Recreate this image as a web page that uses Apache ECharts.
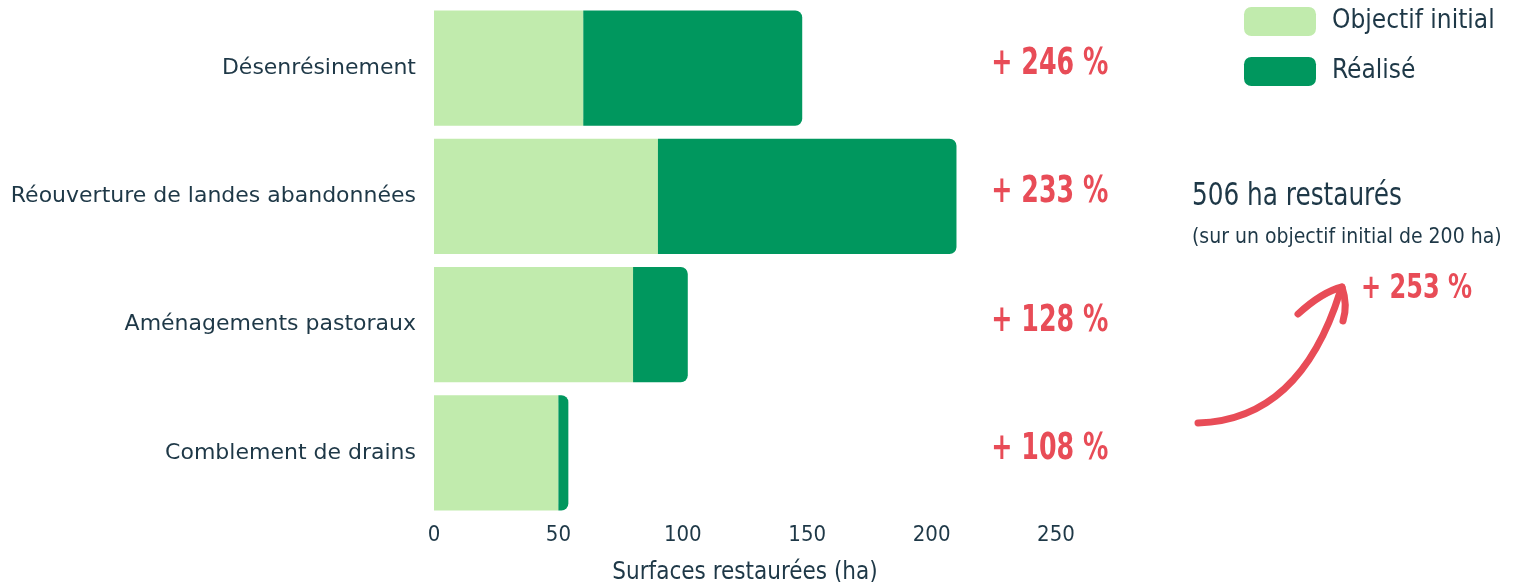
<!DOCTYPE html>
<html><head><meta charset="utf-8">
<script src="https://cdn.jsdelivr.net/npm/echarts@6/dist/echarts.min.js"></script>
<style>html,body{margin:0;padding:0;background:#fff}#c{width:1523px;height:582px}</style>
</head><body><div id="c"></div>
<script>
const categories = ['Désenrésinement', 'Réouverture de landes abandonnées', 'Aménagements pastoraux', 'Comblement de drains'];
const objectif = [60, 90, 80, 50];
const realise = [148, 210, 102, 54];
const pctLabels = ['+ 246 %', '+ 233 %', '+ 128 %', '+ 108 %'];
const xTicks = [0, 50, 100, 150, 200, 250];

const COND = "'DejaVu Sans Condensed','Liberation Sans Narrow','Roboto',sans-serif";
const TXT = '#1e3847';
const RED = '#e84c57';
const LABEL_X = 224;

const extra = realise.map((v, i) => v - objectif[i]);
const arrowStyle = { fill: null, stroke: RED, lineWidth: 7, lineCap: 'round' };

const chart = echarts.init(document.getElementById('c'));
chart.setOption({
  animation: false,
  grid: { left: 434, right: 467, top: 4, bottom: 65, containLabel: false, outerBoundsMode: 'none' },
  legend: {
    orient: 'vertical', left: 1244, top: 7, padding: 0,
    data: ['Objectif initial', 'Réalisé'],
    itemWidth: 72, itemHeight: 29, itemGap: 21,
    icon: 'roundRect',
    textStyle: { fontFamily: COND, fontSize: 26, color: TXT, padding: [3, 0, 0, 11] }
  },
  xAxis: {
    type: 'value', min: 0, max: 250, interval: 50,
    name: 'Surfaces restaurées (ha)', nameLocation: 'middle', nameGap: 44,
    nameTextStyle: { fontFamily: COND, fontSize: 24, color: TXT },
    axisLine: { show: false }, axisTick: { show: false }, splitLine: { show: false },
    axisLabel: { fontFamily: COND, fontSize: 22, color: TXT, margin: 7,
      formatter: v => xTicks.includes(v) ? String(v) : '' }
  },
  yAxis: {
    type: 'category', data: categories, inverse: true,
    axisLine: { show: false }, axisTick: { show: false },
    axisLabel: { fontFamily: "'DejaVu Sans',sans-serif", fontSize: 22, color: TXT, margin: 18 }
  },
  series: [
    { name: 'Objectif initial', type: 'bar', stack: 's', data: objectif, barCategoryGap: '10%',
      itemStyle: { color: '#c1ebad' } },
    { name: 'Réalisé', type: 'bar', stack: 's', data: extra,
      itemStyle: { color: '#00975e', borderRadius: [0, 7, 7, 0] } },
    { type: 'custom', silent: true,
      data: pctLabels.map((p, i) => [LABEL_X, i]),
      renderItem: (params, api) => {
        const pt = api.coord([api.value(0), api.value(1)]);
        return { type: 'text', x: pt[0], y: pt[1] - 4, scaleX: 0.74,
          style: { text: pctLabels[params.dataIndex], font: "bold 38px " + COND,
            fill: RED, align: 'left', verticalAlign: 'middle' } };
      } }
  ],
  graphic: [
    { type: 'text', x: 1192, y: 197, scaleX: 0.86,
      style: { text: '506 ha restaurés', font: "32px " + COND, fill: TXT, align: 'left', verticalAlign: 'middle' } },
    { type: 'text', x: 1192, y: 238,
      style: { text: '(sur un objectif initial de 200 ha)', font: "21px " + COND, fill: TXT, align: 'left', verticalAlign: 'middle' } },
    { type: 'text', x: 1361, y: 289, scaleX: 0.81,
      style: { text: '+ 253 %', font: "bold 33px " + COND, fill: RED, align: 'left', verticalAlign: 'middle' } },
    { type: 'bezierCurve', shape: { x1: 1198, y1: 423, cpx1: 1300, cpy1: 420, x2: 1340, y2: 292 }, style: arrowStyle },
    { type: 'bezierCurve', shape: { x1: 1298, y1: 314, cpx1: 1322, cpy1: 292, x2: 1342, y2: 287 }, style: arrowStyle },
    { type: 'bezierCurve', shape: { x1: 1342, y1: 287, cpx1: 1348, cpy1: 305, x2: 1343, y2: 321 }, style: arrowStyle }
  ]
});
</script></body></html>
